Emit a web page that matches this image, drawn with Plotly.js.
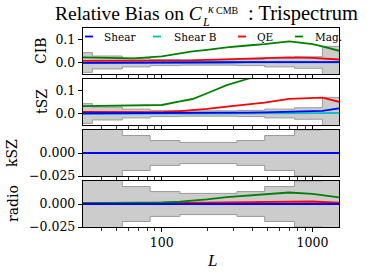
<!DOCTYPE html>
<html><head><meta charset="utf-8">
<script src="https://cdn.plot.ly/plotly-3.0.1.min.js"></script>
<style>html,body{margin:0;padding:0;background:#fff}#chart{width:374px;height:274px}</style>
</head><body><div id="chart"></div>
<script>
// ---- data ----
const L = [30, 45, 65, 100, 132, 160, 200, 270, 370, 480, 700, 1000, 1164, 1500];
const seriesNames = ['Shear', 'Shear B', 'QE', 'Mag.'];
const panelNames = ['CIB', 'tSZ', 'kSZ', 'radio'];

const cib_shear  = [-0.002, -0.002, -0.002, -0.001, -0.001, 0.000, 0.000, 0.001, 0.002, 0.002, 0.003, 0.003, 0.003, 0.002];
const cib_shearB = [-0.003, -0.003, -0.003, -0.002, -0.002, -0.001, -0.001, 0.000, 0.001, 0.001, 0.002, 0.002, 0.002, 0.001];
const cib_qe     = [0.007, 0.007, 0.007, 0.007, 0.008, 0.009, 0.011, 0.014, 0.017, 0.019, 0.022, 0.020, 0.018, 0.013];
const cib_mag    = [0.022, 0.020, 0.018, 0.027, 0.040, 0.048, 0.055, 0.066, 0.074, 0.080, 0.092, 0.080, 0.070, 0.051];

const tsz_shear  = [0.001, 0.001, 0.001, 0.001, 0.001, 0.002, 0.002, 0.003, 0.004, 0.005, 0.007, 0.010, 0.011, 0.022];
const tsz_shearB = [-0.001, -0.001, -0.001, -0.001, -0.001, 0.000, 0.000, 0.000, 0.001, 0.001, 0.001, 0.002, 0.002, 0.003];
const tsz_qe     = [0.007, 0.007, 0.006, 0.006, 0.010, 0.014, 0.020, 0.030, 0.040, 0.047, 0.064, 0.068, 0.069, 0.051];
const tsz_mag    = [0.032, 0.033, 0.034, 0.037, 0.053, 0.063, 0.088, 0.123, 0.150, 0.175, 0.210, 0.240, 0.250, 0.250];

const ksz_shear  = [0, 0, 0, 0, 0, 0, 0, 0, 0, 0, 0, 0, 0, 0];
const ksz_shearB = [0, 0, 0, 0, 0, 0, 0, 0, 0, 0, 0, 0, 0, 0];
const ksz_qe     = [0, 0, 0, 0, 0, 0, 0, 0, 0, 0, 0, 0, 0, 0];
const ksz_mag    = [0, 0, 0, 0, 0, 0, 0, 0, 0, 0, 0, 0, 0, 0];

const radio_shear  = [0, 0, 0, 0, 0, 0, 0, 0, 0, 0, 0, 0, 0, 0];
const radio_shearB = [0, 0, 0, 0, 0, 0, 0, 0, 0, 0, 0, 0, 0, 0];
const radio_qe     = [0.0008, 0.0008, 0.0009, 0.0010, 0.0012, 0.0013, 0.0015, 0.0018, 0.0020, 0.0023, 0.0030, 0.0027, 0.0022, 0.0015];
const radio_mag    = [0.0010, 0.0010, 0.0012, 0.0018, 0.0025, 0.0035, 0.0050, 0.0075, 0.0090, 0.0100, 0.0125, 0.0110, 0.0095, 0.0072];

const binEdges = [30, 34.6, 54.7, 83.7, 132, 315, 482, 760, 1164, 1500];
const sigma    = [0.043, 0.028, 0.019, 0.0135, 0.0115, 0.0135, 0.019, 0.025, 0.07];

const panelData = [
  [cib_shear, cib_shearB, cib_qe, cib_mag],
  [tsz_shear, tsz_shearB, tsz_qe, tsz_mag],
  [ksz_shear, ksz_shearB, ksz_qe, ksz_mag],
  [radio_shear, radio_shearB, radio_qe, radio_mag]
];
const yRanges = [[-0.05, 0.15], [-0.05, 0.15], [-0.025, 0.025], [-0.025, 0.025]];
const yTickVals = [[0, 0.1], [0, 0.1], [-0.025, 0], [-0.025, 0]];
const yTickText = [['0.0', '0.1'], ['0.0', '0.1'], ['\u22120.025', '0.000'], ['\u22120.025', '0.000']];
const xTickVals = [100, 1000];
const xTickText = ['100', '1000'];
const xMinorVals = [40, 50, 60, 70, 80, 90, 200, 300, 400, 500, 600, 700, 800, 900];

// ---- style ----
const colors = ['#0000ff', '#00bfbf', '#ff0000', '#008000'];
const drawOrder = [1, 2, 3, 0];
const W = 374, H = 274, ML = 83, MR = 35, MT = 28, MB = 47;
const PW = W - ML - MR, PH = H - MT - MB;
const px2x = p => (p - ML) / PW;
const py2y = p => (H - MB - p) / PH;
const panelPx = [[28, 74], [79, 125], [130, 176], [181, 227]];
const FONT = 'DejaVu Serif';
const TFONT = 'Liberation Serif';

const traces = [];
const layout = {
  width: W, height: H,
  margin: {l: ML, r: MR, t: MT, b: MB, pad: 0},
  paper_bgcolor: '#fff', plot_bgcolor: '#fff',
  showlegend: false,
  font: {family: FONT, color: '#000', size: 12},
  annotations: [], shapes: []
};

const bandY = s => s.concat([s[s.length - 1]]);

for (let p = 0; p < 4; p++) {
  const suf = p === 0 ? '' : String(p + 1);
  const xa = 'x' + suf, ya = 'y' + suf;
  traces.push({x: binEdges, y: bandY(sigma.map(v => -v)), xaxis: xa, yaxis: ya, mode: 'lines',
    line: {shape: 'hv', color: '#9a9a9a', width: 1}, hoverinfo: 'skip'});
  traces.push({x: binEdges, y: bandY(sigma), xaxis: xa, yaxis: ya, mode: 'lines', fill: 'tonexty',
    fillcolor: '#cccccc', line: {shape: 'hv', color: '#9a9a9a', width: 1}, hoverinfo: 'skip'});
  for (const s of drawOrder) {
    traces.push({x: L, y: panelData[p][s], xaxis: xa, yaxis: ya, mode: 'lines', name: seriesNames[s],
      line: {color: colors[s], width: 1.8}});
  }
  const dom = [py2y(panelPx[p][1]), py2y(panelPx[p][0])];
  layout['xaxis' + suf] = {
    type: 'log', range: [Math.log10(30), Math.log10(1500)], anchor: ya,
    showline: true, mirror: true, linecolor: '#000', linewidth: 1.2,
    ticks: 'outside', ticklen: 4, tickwidth: 1, tickcolor: '#000',
    tickvals: xTickVals, ticktext: xTickText, showticklabels: p === 3,
    tickfont: {family: FONT, size: 12.5, color: '#000'},
    minor: {tickvals: xMinorVals, ticks: 'outside', ticklen: 2.5, tickwidth: 0.8, tickcolor: '#000', showgrid: false},
    showgrid: false, zeroline: false
  };
  layout['yaxis' + suf] = {
    domain: dom, range: yRanges[p], anchor: xa,
    showline: true, mirror: true, linecolor: '#000', linewidth: 1.2,
    ticks: 'outside', ticklen: 4, tickwidth: 1, tickcolor: '#000',
    tickvals: yTickVals[p], ticktext: yTickText[p],
    tickfont: {family: FONT, size: 12.5, color: '#000'},
    showgrid: false, zeroline: false
  };
  const yTitleX = [41, 42, 12, 13][p];
  layout.annotations.push({text: panelNames[p], xref: 'paper', yref: 'paper',
    x: px2x(yTitleX), y: py2y((panelPx[p][0] + panelPx[p][1]) / 2), textangle: -90,
    xanchor: 'center', yanchor: 'middle', showarrow: false, font: {family: FONT, size: 14, color: '#000'}});
}

// legend (drawn inside top panel)
const legendPx = [[85, 102], [153, 172], [238, 255], [295, 313]];
for (let s = 0; s < 4; s++) {
  const [lx, tx] = legendPx[s];
  layout.shapes.push({type: 'line', xref: 'paper', yref: 'paper', x0: px2x(lx), x1: px2x(lx + 8),
    y0: py2y(36.5), y1: py2y(36.5), line: {color: colors[s], width: 1.8}});
  layout.annotations.push({text: seriesNames[s], xref: 'paper', yref: 'paper', x: px2x(tx), y: py2y(36.5),
    xanchor: 'left', yanchor: 'middle', showarrow: false, font: {family: FONT, size: 10.5, color: '#000'}});
}

// title pieces
const ann = (text, px, py, size, xanchor, fam) => layout.annotations.push({text, xref: 'paper', yref: 'paper',
  x: px2x(px), y: py2y(py), xanchor: xanchor, yanchor: 'middle', showarrow: false,
  font: {family: fam || TFONT, size: size, color: '#000'}});
ann('Relative Bias on <i>C</i>', 205, 13, 19.5, 'right');
ann('<i>L</i>', 200, 22, 12, 'left');
ann('<i>κ</i>', 206, 9, 12, 'left');
ann('CMB', 214, 10, 10, 'left');
ann(': Trispectrum', 246, 13, 20.5, 'left');
// x-axis title
ann('<i>L</i>', 212, 260, 17, 'center');

Plotly.newPlot('chart', traces, layout, {staticPlot: true, displayModeBar: false});
</script></body></html>
